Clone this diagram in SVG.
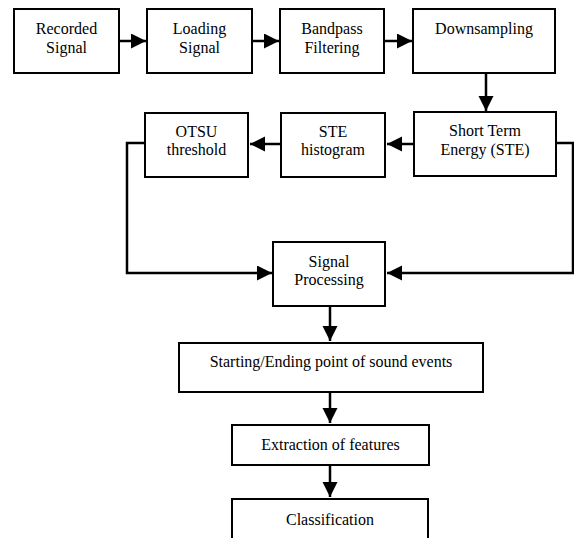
<svg xmlns="http://www.w3.org/2000/svg" width="574" height="538" viewBox="0 0 574 538">
<defs>
<style>
.box{fill:#fff;stroke:#000;stroke-width:2}
.t{font-family:"Liberation Serif","Times New Roman",serif;font-size:16px;fill:#000;text-anchor:middle}
.c{fill:none;stroke:#000;stroke-width:2.5}
</style>
<marker id="ah" markerUnits="userSpaceOnUse" markerWidth="16" markerHeight="16" refX="15" refY="7.5" orient="auto">
<path d="M0,0 L15,7.5 L0,15 Z" fill="#000"/>
</marker>
</defs>
<rect width="574" height="538" fill="#fff"/>
<g id="connectors">
<path class="c" d="M119,41 H146" marker-end="url(#ah)"/>
<path class="c" d="M252,41 H279" marker-end="url(#ah)"/>
<path class="c" d="M384,41 H412" marker-end="url(#ah)"/>
<path class="c" d="M486,73 V111" marker-end="url(#ah)"/>
<path class="c" d="M414,144 H387" marker-end="url(#ah)"/>
<path class="c" d="M281,144 H250" marker-end="url(#ah)"/>
<path class="c" d="M145,143 H127 V273 H272" marker-end="url(#ah)"/>
<path class="c" d="M556,143 H573 V273 H387" marker-end="url(#ah)"/>
<path class="c" d="M330,306 V341" marker-end="url(#ah)"/>
<path class="c" d="M330,392 V423" marker-end="url(#ah)"/>
<path class="c" d="M330,465 V497" marker-end="url(#ah)"/>
</g>
<g id="recorded"><rect class="box" x="14" y="9" width="105" height="64"/><text class="t" x="66.5" y="34">Recorded</text><text class="t" x="66.5" y="53">Signal</text></g>
<g id="loading"><rect class="box" x="147" y="9" width="105" height="64"/><text class="t" x="199.5" y="34">Loading</text><text class="t" x="199.5" y="53">Signal</text></g>
<g id="bandpass"><rect class="box" x="280" y="9" width="104" height="64"/><text class="t" x="332" y="34">Bandpass</text><text class="t" x="332" y="53">Filtering</text></g>
<g id="downsampling"><rect class="box" x="413" y="9" width="142" height="64"/><text class="t" x="484" y="34">Downsampling</text></g>
<g id="ste"><rect class="box" x="414" y="112" width="142" height="64"/><text class="t" x="485" y="136">Short Term</text><text class="t" x="485" y="155">Energy (STE)</text></g>
<g id="histogram"><rect class="box" x="281" y="113" width="104" height="64"/><text class="t" x="333" y="137">STE</text><text class="t" x="333" y="155">histogram</text></g>
<g id="otsu"><rect class="box" x="145" y="113" width="103" height="64"/><text class="t" x="196.5" y="137">OTSU</text><text class="t" x="196.5" y="155">threshold</text></g>
<g id="processing"><rect class="box" x="273" y="242" width="112" height="64"/><text class="t" x="329" y="267">Signal</text><text class="t" x="329" y="285">Processing</text></g>
<g id="startend"><rect class="box" x="179" y="343" width="304" height="49"/><text class="t" x="331" y="367">Starting/Ending point of sound events</text></g>
<g id="extraction"><rect class="box" x="232" y="425" width="197" height="40"/><text class="t" x="330.5" y="450">Extraction of features</text></g>
<g id="classification"><rect class="box" x="232" y="499" width="196" height="50"/><text class="t" x="330" y="525">Classification</text></g>
</svg>
